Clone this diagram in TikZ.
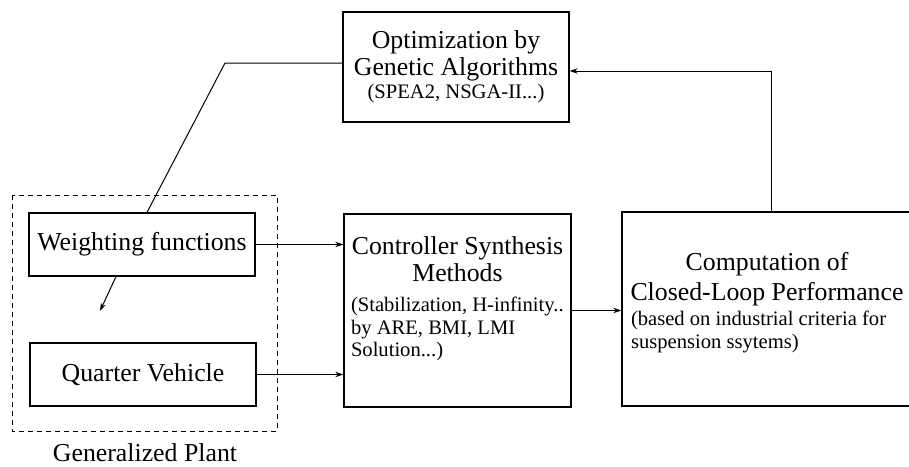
\documentclass[tikz,border=0pt]{standalone}
\usepackage{fontspec}
\setmainfont{Liberation Serif}
\usetikzlibrary{arrows.meta, positioning}

\newcommand{\bigtxt}{\fontsize{12.9}{13.5}\selectfont}
\newcommand{\smalltxt}{\fontsize{10.3}{11.5}\selectfont}
% small line, left aligned in a box of given width
\newcommand{\smallrow}[2]{{\smalltxt\makebox[#1][l]{#2}}}
% extra depth below the last line, to lift the text in its box
\newcommand{\padbelow}[1]{\rule[-#1]{0pt}{0pt}}

\begin{document}
\begin{tikzpicture}[
        x = 0.5pt, y = -0.5pt,
        >= {Stealth[length = 4pt, width = 2.6pt]},
        block/.style = {draw, line width = 0.6pt, inner sep = 0pt, font = \bigtxt, align = center},
        link/.style = {line width = 0.5pt},
        plantbox/.style = {line width = 0.5pt, dash pattern = on 2.5pt off 2pt}
    ]
    \useasboundingbox (0,0) rectangle (909,466);

    \node[block, minimum width = 113pt, minimum height = 55pt] (opt) at (456,67)
        {Optimization by\\Genetic Algorithms\\[-2pt]{\smalltxt (SPEA2, NSGA-II...)}};

    \node[block, minimum width = 113pt, minimum height = 31.5pt] (weight)  at (142,244.5) {Weighting functions};
    \node[block, minimum width = 113pt, minimum height = 31.5pt] (quarter) at (143,374.5) {Quarter Vehicle};

    \node[block, minimum width = 113.5pt, minimum height = 96.5pt] (ctrl) at (457.5,310.5)
        {Controller Synthesis\\Methods\\[1.5pt]
         \smallrow{106.5pt}{(Stabilization, H-infinity..}\\[-2.25pt]
         \smallrow{106.5pt}{by ARE, BMI, LMI}\\[-2.25pt]
         \smallrow{106.5pt}{Solution...)}\padbelow{13.5pt}};

    \node[block, minimum width = 145pt, minimum height = 97pt] (comp) at (767,309)
        {Computation of\\[1.5pt]Closed-Loop Performance\\[-1pt]
         \smallrow{136pt}{(based on industrial criteria for}\\[-2pt]
         \smallrow{136pt}{suspension ssytems)}\padbelow{9pt}};

    % generalized plant
    \coordinate (plantNW) at (12,195);
    \coordinate (plantSE) at (277,431);
    \draw[plantbox] (plantNW) rectangle (plantSE);
    \node[font = \bigtxt] (plant) at (145,453) {Generalized Plant};

    \coordinate (kink) at (225,63);
    \coordinate (tip)  at (100,311);

    \draw[link] ([yshift = 2pt]opt.west) -- (kink) -- ([xshift = 2.5pt]weight.north);
    \draw[link, ->] ([xshift = -13pt]weight.south) -- (tip);

    \draw[link, ->] (weight.east)  -- (weight.east -| ctrl.west);
    \draw[link, ->] (quarter.east) -- (quarter.east -| ctrl.west);
    \draw[link, ->] (ctrl.east)    -- (ctrl.east -| comp.west);
    \draw[link, ->] ([xshift = 2pt]comp.north) |- ([yshift = -2pt]opt.east);

\end{tikzpicture}
\end{document}
